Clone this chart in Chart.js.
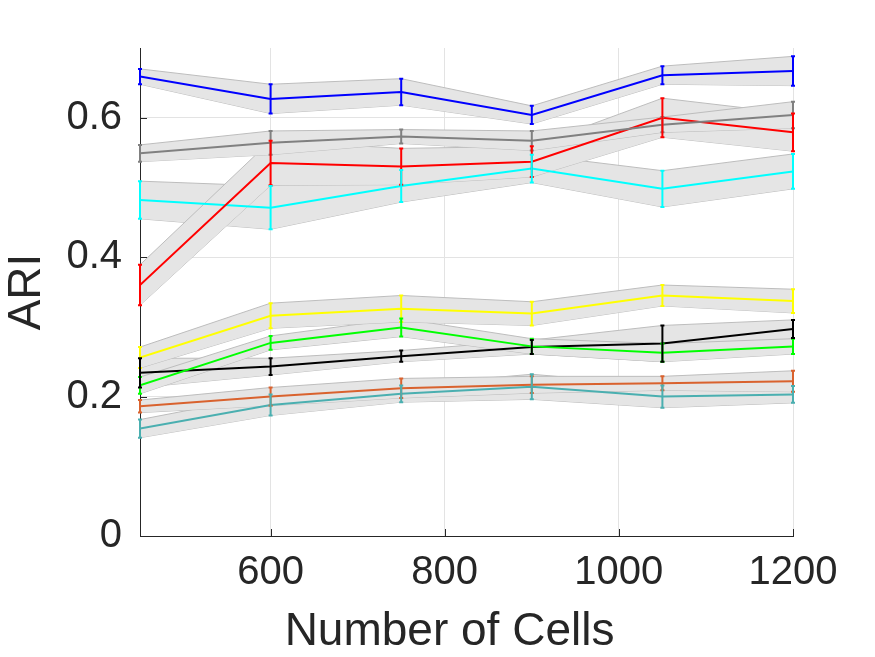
<!DOCTYPE html>
<html>
<head>
<meta charset="utf-8">
<script src="https://cdn.jsdelivr.net/npm/chart.js@4"></script>
<style>
    html, body { margin: 0; padding: 0; background: #fff; }
    #wrap { width: 875px; height: 657px; }
</style>
</head>
<body>
<div id="wrap"><canvas id="ariChart"></canvas></div>
<script>
// x positions (number of cells)
const cells = [450, 600, 750, 900, 1050, 1200];
const xTicks = [600, 800, 1000, 1200];
const yTicks = [0, 0.2, 0.4, 0.6];

// mean ARI and error per method
const blueMean = [0.659, 0.627, 0.637, 0.604, 0.661, 0.667];
const blueErr = [0.011, 0.021, 0.019, 0.013, 0.013, 0.021];
const grayMean = [0.549, 0.564, 0.573, 0.567, 0.590, 0.604];
const grayErr = [0.012, 0.017, 0.010, 0.014, 0.011, 0.019];
const redMean = [0.360, 0.535, 0.530, 0.537, 0.600, 0.579];
const redErr = [0.029, 0.032, 0.026, 0.022, 0.028, 0.027];
const cyanMean = [0.482, 0.471, 0.502, 0.527, 0.498, 0.523];
const cyanErr = [0.027, 0.031, 0.023, 0.020, 0.026, 0.025];
const yellowMean = [0.256, 0.316, 0.326, 0.319, 0.345, 0.337];
const yellowErr = [0.015, 0.018, 0.019, 0.017, 0.015, 0.017];
const greenMean = [0.216, 0.277, 0.299, 0.272, 0.263, 0.272];
const greenErr = [0.012, 0.010, 0.013, 0.011, 0.013, 0.011];
const blackMean = [0.234, 0.243, 0.258, 0.271, 0.276, 0.297];
const blackErr = [0.021, 0.012, 0.008, 0.010, 0.026, 0.013];
const orangeMean = [0.186, 0.200, 0.212, 0.217, 0.219, 0.222];
const orangeErr = [0.009, 0.013, 0.014, 0.012, 0.010, 0.015];
const tealMean = [0.154, 0.188, 0.204, 0.214, 0.200, 0.203];
const tealErr = [0.013, 0.015, 0.012, 0.018, 0.016, 0.012];

const series = [
    { mean: blueMean, err: blueErr, color: '#0000ff' },
    { mean: grayMean, err: grayErr, color: '#808080' },
    { mean: redMean, err: redErr, color: '#ff0000' },
    { mean: cyanMean, err: cyanErr, color: '#00ffff' },
    { mean: yellowMean, err: yellowErr, color: '#ffff00' },
    { mean: greenMean, err: greenErr, color: '#00ff00' },
    { mean: blackMean, err: blackErr, color: '#000000' },
    { mean: orangeMean, err: orangeErr, color: '#d9622e' },
    { mean: tealMean, err: tealErr, color: '#4aafb0' }
];

const textColor = '#262626';
const fontFamily = '"Liberation Sans", Arial, Helvetica, sans-serif';

// shaded bands (upper filled down to lower)
const datasets = [];
series.forEach(s => {
    datasets.push({
        data: cells.map((c, i) => ({ x: c, y: s.mean[i] + s.err[i] })),
        fill: '+1',
        backgroundColor: '#e5e5e5',
        borderColor: '#bdbdbd',
        borderWidth: 1,
        pointRadius: 0,
        order: 2
    });
    datasets.push({
        data: cells.map((c, i) => ({ x: c, y: s.mean[i] - s.err[i] })),
        fill: false,
        borderColor: '#bdbdbd',
        borderWidth: 1,
        pointRadius: 0,
        order: 2
    });
});
// mean lines
series.forEach(s => {
    datasets.push({
        data: cells.map((c, i) => ({ x: c, y: s.mean[i] })),
        fill: false,
        borderColor: s.color,
        borderWidth: 2,
        pointRadius: 0,
        order: 1
    });
});

// vertical error bars with small caps
const errorBars = {
    id: 'errorBars',
    afterDatasetsDraw(chart) {
        const { ctx, scales: { x, y } } = chart;
        ctx.save();
        ctx.lineWidth = 2;
        series.forEach(s => {
            ctx.strokeStyle = s.color;
            cells.forEach((c, i) => {
                const px = x.getPixelForValue(c);
                const top = y.getPixelForValue(s.mean[i] + s.err[i]);
                const bot = y.getPixelForValue(s.mean[i] - s.err[i]);
                ctx.beginPath();
                ctx.moveTo(px, top);
                ctx.lineTo(px, bot);
                ctx.moveTo(px - 2, top);
                ctx.lineTo(px + 2, top);
                ctx.moveTo(px - 2, bot);
                ctx.lineTo(px + 2, bot);
                ctx.stroke();
            });
        });
        ctx.restore();
    }
};

// inward tick marks and the x title (sits a bit left of centre in the original)
const axisExtras = {
    id: 'axisExtras',
    afterDatasetsDraw(chart) {
        const { ctx, chartArea, scales: { x, y } } = chart;
        ctx.save();
        ctx.strokeStyle = textColor;
        ctx.lineWidth = 1;
        ctx.beginPath();
        xTicks.forEach(v => {
            const px = Math.round(x.getPixelForValue(v)) + 0.5;
            ctx.moveTo(px, chartArea.bottom);
            ctx.lineTo(px, chartArea.bottom - 7);
        });
        yTicks.forEach(v => {
            const py = Math.round(y.getPixelForValue(v)) + 0.5;
            ctx.moveTo(chartArea.left, py);
            ctx.lineTo(chartArea.left + 7, py);
        });
        ctx.stroke();

        ctx.fillStyle = textColor;
        ctx.font = '46px ' + fontFamily;
        ctx.textAlign = 'center';
        ctx.textBaseline = 'alphabetic';
        ctx.fillText('Number of Cells', chartArea.left + (chartArea.right - chartArea.left) * 0.474, chartArea.bottom + 109);
        ctx.restore();
    }
};

new Chart(document.getElementById('ariChart'), {
    type: 'line',
    data: { datasets: datasets },
    options: {
        responsive: true,
        maintainAspectRatio: false,
        animation: false,
        layout: { padding: { top: 48, right: 82, bottom: 0, left: 0 } },
        plugins: {
            legend: { display: false },
            tooltip: { enabled: false }
        },
        elements: { line: { tension: 0 } },
        scales: {
            x: {
                type: 'linear',
                min: 450,
                max: 1200,
                afterBuildTicks: scale => { scale.ticks = xTicks.map(v => ({ value: v })); },
                afterFit: scale => { scale.height = 121; },
                grid: { color: '#e3e3e3', drawTicks: false },
                border: { color: textColor, width: 1 },
                ticks: {
                    color: textColor,
                    padding: 13,
                    maxRotation: 0,
                    font: { family: fontFamily, size: 40 },
                    callback: v => String(v)
                }
            },
            y: {
                min: 0,
                max: 0.7,
                afterBuildTicks: scale => { scale.ticks = yTicks.map(v => ({ value: v })); },
                afterFit: scale => { scale.width = 140; },
                grid: { color: '#e3e3e3', drawTicks: false },
                border: { color: textColor, width: 1 },
                ticks: {
                    color: textColor,
                    padding: 18,
                    font: { family: fontFamily, size: 40 },
                    callback: v => String(Math.round(v * 10) / 10)
                },
                title: {
                    display: true,
                    text: 'ARI',
                    color: textColor,
                    padding: { top: 0, bottom: 0 },
                    font: { family: fontFamily, size: 46 }
                }
            }
        }
    },
    plugins: [errorBars, axisExtras]
});
</script>
</body>
</html>
